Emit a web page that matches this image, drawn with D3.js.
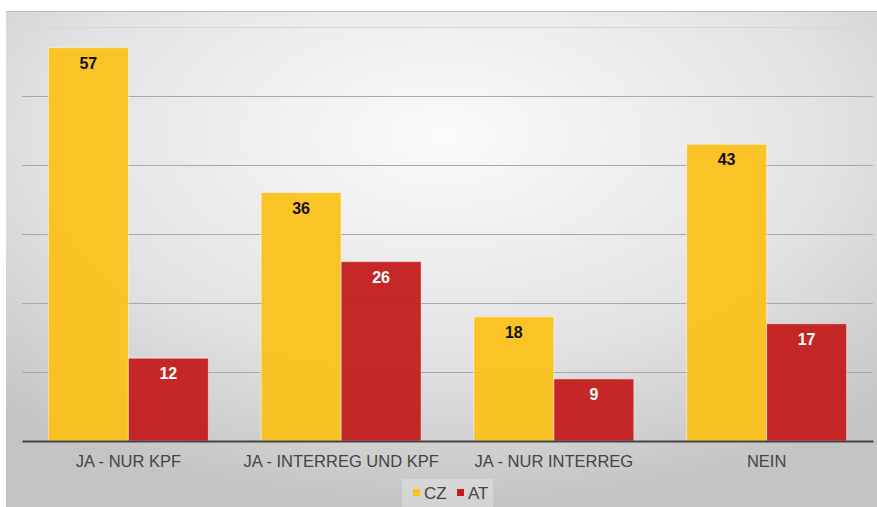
<!DOCTYPE html>
<html>
<head>
<meta charset="utf-8">
<script src="https://cdn.jsdelivr.net/npm/d3@7"></script>
<style>
  body { margin: 0; background: #fff; }
  svg { display: block; }
</style>
</head>
<body>
<svg id="chart" width="877" height="507"></svg>
<script>
var categories = ["JA - NUR KPF", "JA - INTERREG UND KPF", "JA - NUR INTERREG", "NEIN"];
var seriesNames = ["CZ", "AT"];
var czValues = [57, 36, 18, 43];
var atValues = [12, 26, 9, 17];
var yTicks = [0, 10, 20, 30, 40, 50, 60];

var colors = { CZ: "#fbc01a", AT: "#c31c1c" };
var labelColors = { CZ: "#111", AT: "#fff" };

var svg = d3.select("svg#chart");

var marginTop = 27,
    marginBottom = 66,
    marginLeft = 22,
    marginRight = 4;

var width = 877 - marginLeft - marginRight,
    height = 507 - marginTop - marginBottom;

// background panel
var defs = svg.append("defs");
var grad = defs.append("radialGradient")
    .attr("id", "bg")
    .attr("cx", "50%").attr("cy", "25%")
    .attr("r", "75%");
grad.append("stop").attr("offset", "0%").attr("stop-color", "#fbfbfb");
grad.append("stop").attr("offset", "60%").attr("stop-color", "#e2e2e2");
grad.append("stop").attr("offset", "100%").attr("stop-color", "#c4c4c4");

svg.append("rect")
   .attr("x", 6).attr("y", 11)
   .attr("width", 871).attr("height", 496)
   .style("fill", "url(#bg)");
svg.append("line")
   .attr("x1", 6).attr("x2", 877)
   .attr("y1", 11.5).attr("y2", 11.5)
   .style("stroke", "#b8b8b8");

var el = svg.append("g")
   .attr("transform", "translate(" + marginLeft + "," + marginTop + ")");

var x = d3.scaleBand().domain(categories).range([0, width]);
var y = d3.scaleLinear().domain([0, 60]).range([height, 0]);

// gridlines
el.append("g")
  .selectAll("line")
  .data(yTicks.slice(1))
  .enter().append("line")
  .attr("x1", 0).attr("x2", width)
  .attr("y1", function(d) { return Math.round(y(d)) + 0.5; })
  .attr("y2", function(d) { return Math.round(y(d)) + 0.5; })
  .style("stroke", function(d) { return d === 60 ? "#d6d6d6" : "#a8a8a8"; })
  .style("stroke-width", 1);

var barW = 80;
var series = [
  { name: "CZ", values: czValues, offset: -barW },
  { name: "AT", values: atValues, offset: 0 }
];

series.forEach(function(s) {
  var g = el.append("g");
  var rows = categories.map(function(c, i) { return { cat: c, value: s.values[i] }; });

  g.selectAll("rect")
   .data(rows)
   .enter().append("rect")
   .attr("x", function(d) { return x(d.cat) + x.bandwidth() / 2 + s.offset; })
   .attr("y", function(d) { return y(d.value); })
   .attr("width", barW)
   .attr("height", function(d) { return height - y(d.value); })
   .style("fill", colors[s.name])
   .style("fill-opacity", 0.94)
   .style("stroke", "rgba(255,255,255,0.5)")
   .style("stroke-width", 1);

  g.selectAll("text")
   .data(rows)
   .enter().append("text")
   .attr("x", function(d) { return x(d.cat) + x.bandwidth() / 2 + s.offset + barW / 2; })
   .attr("y", function(d) { return y(d.value) + 21; })
   .attr("text-anchor", "middle")
   .style("font-family", "'Liberation Sans', Arial, sans-serif")
   .style("font-weight", "bold")
   .style("font-size", "16px")
   .style("fill", labelColors[s.name])
   .text(function(d) { return d.value; });
});

// x axis
var xAxis = el.append("g")
  .attr("transform", "translate(0," + height + ")")
  .call(d3.axisBottom(x).tickSize(0).tickPadding(14));
xAxis.select(".domain")
  .style("stroke", "#444")
  .style("stroke-width", 2);
xAxis.selectAll("text")
  .style("font-family", "'Liberation Sans', Arial, sans-serif")
  .style("font-size", "16.5px")
  .style("fill", "#444");

// legend
var legend = svg.append("g").attr("transform", "translate(402,479)");
legend.append("rect")
  .attr("width", 91).attr("height", 28)
  .style("fill", "rgba(255,255,255,0.25)");
var items = legend.selectAll("g.item")
  .data(seriesNames)
  .enter().append("g")
  .attr("transform", function(d, i) { return "translate(" + (11 + i * 44) + ",0)"; });
items.append("rect")
  .attr("y", 10).attr("width", 7).attr("height", 7)
  .style("fill", function(d) { return colors[d]; });
items.append("text")
  .attr("x", 11).attr("y", 20)
  .style("font-family", "'Liberation Sans', Arial, sans-serif")
  .style("font-size", "17px")
  .style("fill", "#444")
  .text(function(d) { return d; });
</script>
</body>
</html>
